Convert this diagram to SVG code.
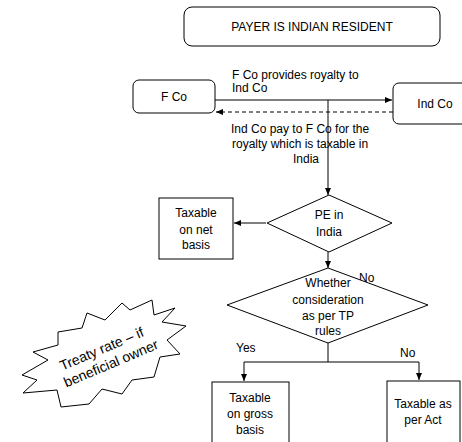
<svg xmlns="http://www.w3.org/2000/svg" width="462" height="442" viewBox="0 0 462 442">
  <style>
    .box { fill: #ffffff; stroke: #000000; stroke-width: 1; }
    .line { fill: none; stroke: #000000; stroke-width: 1; }
    .dash { stroke-dasharray: 4 3; }
    text { font-family: "Liberation Sans", Arial, sans-serif; font-size: 12px; fill: #000000; }
    .c { text-anchor: middle; }
    .burst { font-size: 14px; }
  </style>
  <defs>
    <marker id="arrow" viewBox="0 0 8 8" refX="7" refY="4" markerWidth="8" markerHeight="8" markerUnits="userSpaceOnUse" orient="auto">
      <path d="M0,1 L7,4 L0,7 Z" fill="#000000"/>
    </marker>
  </defs>

  <!-- connectors -->
  <g id="connectors">
    <line class="line" x1="215" y1="100" x2="392" y2="100" marker-end="url(#arrow)"/>
    <line class="line dash" x1="393" y1="112" x2="216" y2="112" marker-end="url(#arrow)"/>
    <line class="line" x1="328" y1="100" x2="328" y2="195" marker-end="url(#arrow)"/>
    <line class="line" x1="266" y1="223" x2="234" y2="223" marker-end="url(#arrow)"/>
    <line class="line" x1="328" y1="252" x2="328" y2="268" marker-end="url(#arrow)"/>
    <polyline class="line" points="328,343 328,362 244,362 244,381" marker-end="url(#arrow)"/>
    <polyline class="line" points="328,362 419,362 419,380" marker-end="url(#arrow)"/>
    <text x="232" y="79">F Co provides royalty to</text>
    <text x="232" y="92">Ind Co</text>
    <text x="231" y="133">Ind Co pay to F Co for the</text>
    <text x="232" y="148">royalty which is taxable in</text>
    <text class="c" x="306" y="163">India</text>
    <text x="359" y="282">No</text>
    <text x="236" y="352">Yes</text>
    <text x="400" y="357">No</text>
  </g>

  <g id="payer">
    <rect class="box" x="184" y="7" width="256" height="39" rx="8"/>
    <text class="c" x="312" y="31">PAYER IS INDIAN RESIDENT</text>
  </g>

  <g id="fco">
    <rect class="box" x="133" y="80" width="82" height="33" rx="6"/>
    <text class="c" x="174" y="101">F Co</text>
  </g>

  <g id="indco">
    <rect class="box" x="393" y="83" width="80" height="41" rx="6"/>
    <text class="c" x="435" y="108">Ind Co</text>
  </g>

  <g id="pe-india">
    <polygon class="box" points="329,195 392,223 329,252 267,223"/>
    <text class="c" x="329" y="219">PE in</text>
    <text class="c" x="329" y="236">India</text>
  </g>

  <g id="net-basis">
    <rect class="box" x="159" y="198" width="74" height="61"/>
    <text class="c" x="196" y="217">Taxable</text>
    <text class="c" x="196" y="234">on net</text>
    <text class="c" x="196" y="249">basis</text>
  </g>

  <g id="tp-rules">
    <polygon class="box" points="328,268 428,305 328,343 227,305"/>
    <text class="c" x="328" y="287">Whether</text>
    <text class="c" x="328" y="304">consideration</text>
    <text class="c" x="328" y="320">as per TP</text>
    <text class="c" x="328" y="335">rules</text>
  </g>

  <g id="gross-basis">
    <rect class="box" x="212" y="382" width="77" height="70"/>
    <text class="c" x="250" y="402">Taxable</text>
    <text class="c" x="250" y="418">on gross</text>
    <text class="c" x="250" y="434">basis</text>
  </g>

  <g id="per-act">
    <rect class="box" x="387" y="381" width="73" height="70"/>
    <text class="c" x="423" y="408">Taxable as</text>
    <text class="c" x="423" y="424">per Act</text>
  </g>

  <g id="treaty-rate">
    <polygon class="box" points="58,332 82,328 87,313 105,320 122,303 130,310 152,300 154,315 175,308 162,322 186,326 167,340 180,354 160,357 154,377 132,380 122,394 102,389 89,404 61,407 57,390 23,393 37,380 22,375 48,360 33,352 58,345"/>
    <g transform="translate(105,357) rotate(-23)">
      <text class="c burst" x="0" y="-4">Treaty rate – if</text>
      <text class="c burst" x="3" y="13">beneficial owner</text>
    </g>
  </g>
</svg>
